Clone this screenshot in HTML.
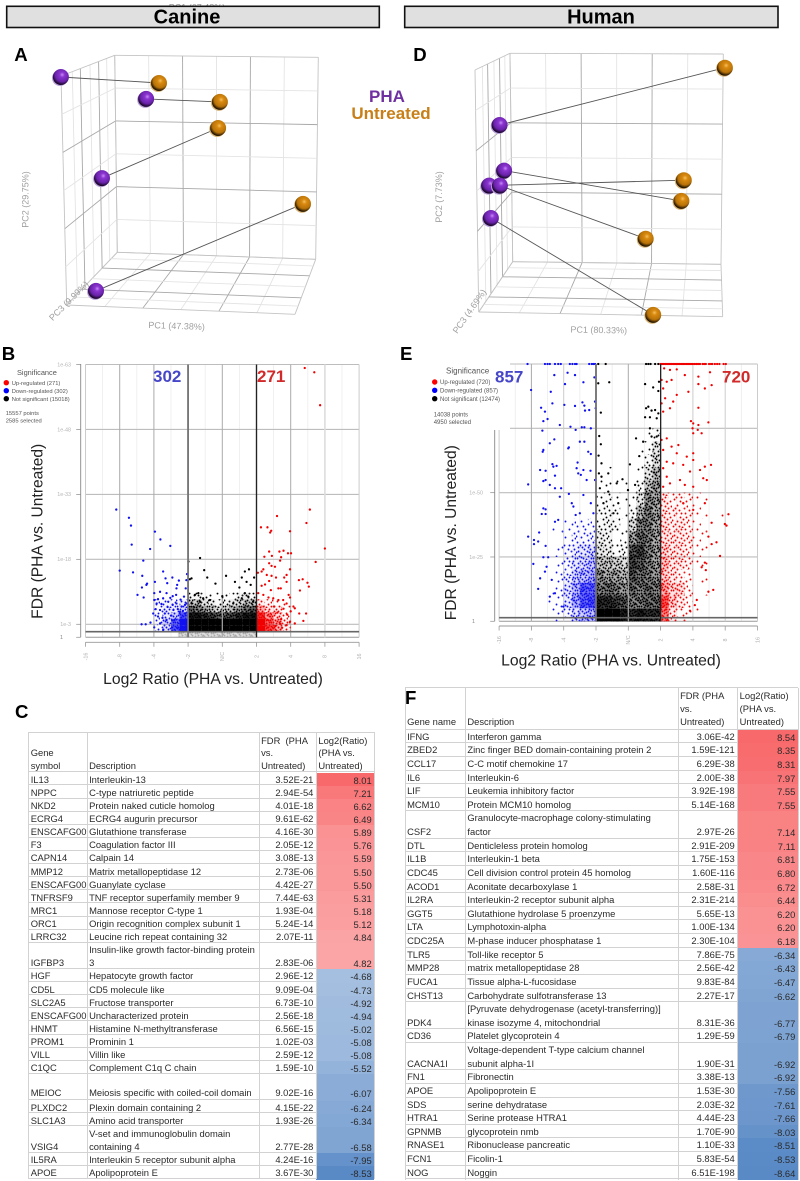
<!DOCTYPE html>
<html lang="en">
<head>
<meta charset="utf-8">
<title>PHA vs. Untreated: Canine and Human</title>
<style>
html,body{margin:0;padding:0;background:#fff;}
#page{position:relative;width:800px;height:1181px;overflow:hidden;background:#fff;font-family:"Liberation Sans",sans-serif;color:#2a2a2a;}
#figure{position:absolute;left:0;top:0;filter:blur(.25px);}
.letter{position:absolute;font-weight:bold;font-size:18.6px;line-height:20px;color:#000;z-index:5;}
.tbl{position:absolute;font-size:9.4px;filter:blur(.15px);}
.row{display:grid;box-sizing:border-box;border-bottom:1px solid #d2d2d2;white-space:nowrap;}
.row span{align-self:end;padding-left:2.4px;position:relative;display:block;}
.row .n{text-align:right;padding:0 2.6px 0 0;}
.row .h{align-self:stretch;display:flex;justify-content:flex-end;align-items:flex-end;padding:0 2.6px 0 0;margin-bottom:-1px;}
.vl{position:absolute;top:0;bottom:0;width:1px;background:#d2d2d2;}
#table-c{left:28.3px;top:732.3px;width:346.5px;height:445.9px;border-top:1px solid #d2d2d2;}
#table-c .row{grid-template-columns:58.4px 172px 57.3px 58.3px;line-height:13.12px;height:13.12px;}
#table-c .row.d{height:26.24px;}
#table-c .row span{top:.5px;}
#table-c .row.hd{height:39px;line-height:12.3px;}
#table-f{left:404.7px;top:687.3px;width:393.3px;height:491.4px;border-top:1px solid #d2d2d2;}
#table-f .row{grid-template-columns:60.3px 212.7px 59.6px 60.7px;line-height:13.64px;height:13.64px;}
#table-f .row.d{height:27.28px;}
#table-f .row.hd{height:41.4px;line-height:12.85px;}
</style>
</head>
<body>
<div id="page">
<svg id="figure" width="800" height="1181" viewBox="0 0 800 1181" xmlns="http://www.w3.org/2000/svg" font-family="'Liberation Sans',sans-serif">
  <defs>
    <radialGradient id="sphere-purple" cx="58%" cy="36%" r="62%">
      <stop offset="0" stop-color="#c98af5"/><stop offset=".25" stop-color="#8a35d0"/><stop offset=".7" stop-color="#6a22aa"/><stop offset="1" stop-color="#180828"/>
    </radialGradient>
    <radialGradient id="sphere-orange" cx="58%" cy="36%" r="62%">
      <stop offset="0" stop-color="#f6c060"/><stop offset=".25" stop-color="#d98a10"/><stop offset=".7" stop-color="#b87208"/><stop offset="1" stop-color="#1e1202"/>
    </radialGradient>
  </defs>

  <text x="197" y="10.5" font-size="9" text-anchor="middle" fill="#999">PC1 (67.48%)</text>

  <g>
    <rect x="6.7" y="6.3" width="372.6" height="21.2" fill="#e0e0e0" stroke="#111" stroke-width="1.6"/>
    <text x="187" y="23.4" font-size="20" font-weight="bold" text-anchor="middle" fill="#000">Canine</text>
  </g>
  <g>
    <rect x="404.7" y="6.3" width="373.3" height="21.2" fill="#e0e0e0" stroke="#111" stroke-width="1.6"/>
    <text x="601" y="23.4" font-size="20" font-weight="bold" text-anchor="middle" fill="#000">Human</text>
  </g>

  <g id="pca-a"></g>
  <g id="pca-d"></g>

  <text x="26" y="197" font-size="9" fill="#a0a0a0" text-anchor="middle" transform="rotate(-90 28.5 197)">PC2 (29.75%)</text>
  <text x="176.5" y="329" font-size="9" fill="#a0a0a0" text-anchor="middle" transform="rotate(2 176.5 329)">PC1 (47.38%)</text>
  <text x="71" y="303" font-size="9" fill="#a0a0a0" text-anchor="middle" transform="rotate(-45 71 303)">PC3 (9.99%)</text>
  <text x="442" y="197" font-size="9" fill="#a0a0a0" text-anchor="middle" transform="rotate(-90 442 197)">PC2 (7.73%)</text>
  <text x="598.7" y="333" font-size="9" fill="#a0a0a0" text-anchor="middle" transform="rotate(1 598.7 333)">PC1 (80.33%)</text>
  <text x="472" y="313" font-size="9" fill="#a0a0a0" text-anchor="middle" transform="rotate(-55 472 313)">PC3 (4.69%)</text>

  <text x="387" y="102" font-size="17" font-weight="bold" fill="#7030a0" text-anchor="middle">PHA</text>
  <text x="391" y="119" font-size="17" font-weight="bold" fill="#c87f17" text-anchor="middle">Untreated</text>

  <g id="volcano-b"></g>
  <g id="volcano-e"></g>

  <g>
    <text x="17" y="374.8" font-size="7.4" fill="#555">Significance</text>
    <circle cx="6.3" cy="382.7" r="2.7" fill="#f00"/>
    <text x="11.7" y="384.8" font-size="5.8" fill="#555">Up-regulated (271)</text>
    <circle cx="6.3" cy="390.7" r="2.7" fill="#00f"/>
    <text x="11.7" y="392.8" font-size="5.8" fill="#555">Down-regulated (302)</text>
    <circle cx="6.3" cy="398.7" r="2.7" fill="#000"/>
    <text x="11.7" y="400.8" font-size="5.8" fill="#555">Not significant (15018)</text>
    <text x="5.7" y="415.2" font-size="5.8" fill="#555">15557 points</text>
    <text x="5.7" y="422.3" font-size="5.8" fill="#555">2585 selected</text>
  </g>
  <text x="153" y="382" font-size="17" font-weight="bold" fill="#4646c8">302</text>
  <text x="257" y="382" font-size="17" font-weight="bold" fill="#d22a2a">271</text>

  <g>
    <rect x="430" y="362" width="80" height="68" fill="#fff"/>
    <text x="446" y="373.5" font-size="8" fill="#555">Significance</text>
    <circle cx="434.7" cy="382" r="2.7" fill="#f00"/>
    <text x="440" y="384.1" font-size="6" fill="#555">Up-regulated (720)</text>
    <circle cx="434.7" cy="390.3" r="2.7" fill="#00f"/>
    <text x="440" y="392.4" font-size="6" fill="#555">Down-regulated (857)</text>
    <circle cx="434.7" cy="398.7" r="2.7" fill="#000"/>
    <text x="440" y="400.8" font-size="6" fill="#555">Not significant (12474)</text>
    <text x="433.7" y="416.4" font-size="6" fill="#555">14038 points</text>
    <text x="433.7" y="423.8" font-size="6" fill="#555">4950 selected</text>
  </g>
  <text x="495" y="382.5" font-size="17" font-weight="bold" fill="#4646c8">857</text>
  <text x="722" y="382.5" font-size="17" font-weight="bold" fill="#d22a2a">720</text>

  <text x="213" y="684" font-size="15.7" fill="#222" text-anchor="middle">Log2 Ratio (PHA vs. Untreated)</text>
  <text x="611" y="665.7" font-size="15.7" fill="#222" text-anchor="middle">Log2 Ratio (PHA vs. Untreated)</text>
  <text x="42.5" y="531.3" font-size="15.6" fill="#222" text-anchor="middle" transform="rotate(-90 42.5 531.3)">FDR (PHA vs. Untreated)</text>
  <text x="456" y="532.7" font-size="15.6" fill="#222" text-anchor="middle" transform="rotate(-90 456 532.7)">FDR (PHA vs. Untreated)</text>
</svg>

<div class="letter" style="left:14.3px;top:45px">A</div>
<div class="letter" style="left:413.3px;top:45px">D</div>
<div class="letter" style="left:1.7px;top:343.5px">B</div>
<div class="letter" style="left:400px;top:343.5px">E</div>
<div class="letter" style="left:15px;top:702px">C</div>
<div class="letter" style="left:405px;top:688px">F</div>

<div class="tbl" id="table-c">
<div class="row hd"><span>Gene<br>symbol</span><span>Description</span><span>FDR&nbsp; (PHA<br>vs.<br>Untreated)</span><span>Log2(Ratio)<br>(PHA vs.<br>Untreated)</span></div>
<div class="row"><span>IL13</span><span>Interleukin-13</span><span class="n">3.52E-21</span><span class="h" style="background:#f8696b">8.01</span></div>
<div class="row"><span>NPPC</span><span>C-type natriuretic peptide</span><span class="n">2.94E-54</span><span class="h" style="background:#f9787a">7.21</span></div>
<div class="row"><span>NKD2</span><span>Protein naked cuticle homolog</span><span class="n">4.01E-18</span><span class="h" style="background:#f98385">6.62</span></div>
<div class="row"><span>ECRG4</span><span>ECRG4 augurin precursor</span><span class="n">9.61E-62</span><span class="h" style="background:#f98587">6.49</span></div>
<div class="row"><span>ENSCAFG00</span><span>Glutathione transferase</span><span class="n">4.16E-30</span><span class="h" style="background:#fa9192">5.89</span></div>
<div class="row"><span>F3</span><span>Coagulation factor III</span><span class="n">2.05E-12</span><span class="h" style="background:#fa9395">5.76</span></div>
<div class="row"><span>CAPN14</span><span>Calpain 14</span><span class="n">3.08E-13</span><span class="h" style="background:#fa9698">5.59</span></div>
<div class="row"><span>MMP12</span><span>Matrix metallopeptidase 12</span><span class="n">2.73E-06</span><span class="h" style="background:#fa9899">5.50</span></div>
<div class="row"><span>ENSCAFG00</span><span>Guanylate cyclase</span><span class="n">4.42E-27</span><span class="h" style="background:#fa9899">5.50</span></div>
<div class="row"><span>TNFRSF9</span><span>TNF receptor superfamily member 9</span><span class="n">7.44E-63</span><span class="h" style="background:#fa9c9d">5.31</span></div>
<div class="row"><span>MRC1</span><span>Mannose receptor C-type 1</span><span class="n">1.93E-04</span><span class="h" style="background:#fa9e9f">5.18</span></div>
<div class="row"><span>ORC1</span><span>Origin recognition complex subunit 1</span><span class="n">5.24E-14</span><span class="h" style="background:#fb9fa0">5.12</span></div>
<div class="row"><span>LRRC32</span><span>Leucine rich repeat containing 32</span><span class="n">2.07E-11</span><span class="h" style="background:#fba4a6">4.84</span></div>
<div class="row d"><span>IGFBP3</span><span>Insulin-like growth factor-binding protein<br>3</span><span class="n">2.83E-06</span><span class="h" style="background:#fba5a6">4.82</span></div>
<div class="row"><span>HGF</span><span>Hepatocyte growth factor</span><span class="n">2.96E-12</span><span class="h" style="background:#a4bfe0">-4.68</span></div>
<div class="row"><span>CD5L</span><span>CD5 molecule like</span><span class="n">9.09E-04</span><span class="h" style="background:#a3bedf">-4.73</span></div>
<div class="row"><span>SLC2A5</span><span>Fructose transporter</span><span class="n">6.73E-10</span><span class="h" style="background:#a0bbde">-4.92</span></div>
<div class="row"><span>ENSCAFG00</span><span>Uncharacterized protein</span><span class="n">2.56E-18</span><span class="h" style="background:#9fbbde">-4.94</span></div>
<div class="row"><span>HNMT</span><span>Histamine N-methyltransferase</span><span class="n">6.56E-15</span><span class="h" style="background:#9ebadd">-5.02</span></div>
<div class="row"><span>PROM1</span><span>Prominin 1</span><span class="n">1.02E-03</span><span class="h" style="background:#9db9dd">-5.08</span></div>
<div class="row"><span>VILL</span><span>Villin like</span><span class="n">2.59E-12</span><span class="h" style="background:#9db9dd">-5.08</span></div>
<div class="row"><span>C1QC</span><span>Complement C1q C chain</span><span class="n">1.59E-10</span><span class="h" style="background:#94b3da">-5.52</span></div>
<div class="row d"><span>MEIOC</span><span>Meiosis specific with coiled-coil domain</span><span class="n">9.02E-16</span><span class="h" style="background:#8aacd6">-6.07</span></div>
<div class="row"><span>PLXDC2</span><span>Plexin domain containing 2</span><span class="n">4.15E-22</span><span class="h" style="background:#86a9d5">-6.24</span></div>
<div class="row"><span>SLC1A3</span><span>Amino acid transporter</span><span class="n">1.93E-26</span><span class="h" style="background:#84a8d5">-6.34</span></div>
<div class="row d"><span>VSIG4</span><span>V-set and immunoglobulin domain<br>containing 4</span><span class="n">2.77E-28</span><span class="h" style="background:#80a5d3">-6.58</span></div>
<div class="row"><span>IL5RA</span><span>Interleukin 5 receptor subunit alpha</span><span class="n">4.24E-16</span><span class="h" style="background:#6592ca">-7.95</span></div>
<div class="row"><span>APOE</span><span>Apolipoprotein E</span><span class="n">3.67E-30</span><span class="h" style="background:#5a8ac6">-8.53</span></div>
<div class="vl" style="left:0"></div><div class="vl" style="left:58.4px"></div><div class="vl" style="left:230.4px"></div><div class="vl" style="left:287.7px"></div><div class="vl" style="left:346px"></div>
</div>

<div class="tbl" id="table-f">
<div class="row hd"><span>Gene name</span><span>Description</span><span>FDR (PHA<br>vs.<br>Untreated)</span><span>Log2(Ratio)<br>(PHA vs.<br>Untreated)</span></div>
<div class="row"><span>IFNG</span><span>Interferon gamma</span><span class="n">3.06E-42</span><span class="h" style="background:#f8696b">8.54</span></div>
<div class="row"><span>ZBED2</span><span>Zinc finger BED domain-containing protein 2</span><span class="n">1.59E-121</span><span class="h" style="background:#f86c6e">8.35</span></div>
<div class="row"><span>CCL17</span><span>C-C motif chemokine 17</span><span class="n">6.29E-38</span><span class="h" style="background:#f86d6f">8.31</span></div>
<div class="row"><span>IL6</span><span>Interleukin-6</span><span class="n">2.00E-38</span><span class="h" style="background:#f87375">7.97</span></div>
<div class="row"><span>LIF</span><span>Leukemia inhibitory factor</span><span class="n">3.92E-198</span><span class="h" style="background:#f97a7c">7.55</span></div>
<div class="row"><span>MCM10</span><span>Protein MCM10 homolog</span><span class="n">5.14E-168</span><span class="h" style="background:#f97a7c">7.55</span></div>
<div class="row d"><span>CSF2</span><span>Granulocyte-macrophage colony-stimulating<br>factor</span><span class="n">2.97E-26</span><span class="h" style="background:#f98283">7.14</span></div>
<div class="row"><span>DTL</span><span>Denticleless protein homolog</span><span class="n">2.91E-209</span><span class="h" style="background:#f98284">7.11</span></div>
<div class="row"><span>IL1B</span><span>Interleukin-1 beta</span><span class="n">1.75E-153</span><span class="h" style="background:#f98789">6.81</span></div>
<div class="row"><span>CDC45</span><span>Cell division control protein 45 homolog</span><span class="n">1.60E-116</span><span class="h" style="background:#f98789">6.80</span></div>
<div class="row"><span>ACOD1</span><span>Aconitate decarboxylase 1</span><span class="n">2.58E-31</span><span class="h" style="background:#f9898b">6.72</span></div>
<div class="row"><span>IL2RA</span><span>Interleukin-2 receptor subunit alpha</span><span class="n">2.31E-214</span><span class="h" style="background:#fa8e8f">6.44</span></div>
<div class="row"><span>GGT5</span><span>Glutathione hydrolase 5 proenzyme</span><span class="n">5.65E-13</span><span class="h" style="background:#fa9294">6.20</span></div>
<div class="row"><span>LTA</span><span>Lymphotoxin-alpha</span><span class="n">1.00E-134</span><span class="h" style="background:#fa9294">6.20</span></div>
<div class="row"><span>CDC25A</span><span>M-phase inducer phosphatase 1</span><span class="n">2.30E-104</span><span class="h" style="background:#fa9395">6.18</span></div>
<div class="row"><span>TLR5</span><span>Toll-like receptor 5</span><span class="n">7.86E-75</span><span class="h" style="background:#86a9d5">-6.34</span></div>
<div class="row"><span>MMP28</span><span>matrix metallopeptidase 28</span><span class="n">2.56E-42</span><span class="h" style="background:#84a8d5">-6.43</span></div>
<div class="row"><span>FUCA1</span><span>Tissue alpha-L-fucosidase</span><span class="n">9.83E-84</span><span class="h" style="background:#83a7d4">-6.47</span></div>
<div class="row"><span>CHST13</span><span>Carbohydrate sulfotransferase 13</span><span class="n">2.27E-17</span><span class="h" style="background:#81a5d3">-6.62</span></div>
<div class="row d"><span>PDK4</span><span>[Pyruvate dehydrogenase (acetyl-transferring)]<br>kinase isozyme 4, mitochondrial</span><span class="n">8.31E-36</span><span class="h" style="background:#7ea3d2">-6.77</span></div>
<div class="row"><span>CD36</span><span>Platelet glycoprotein 4</span><span class="n">1.29E-59</span><span class="h" style="background:#7da3d2">-6.79</span></div>
<div class="row d"><span>CACNA1I</span><span>Voltage-dependent T-type calcium channel<br>subunit alpha-1I</span><span class="n">1.90E-31</span><span class="h" style="background:#7ba1d1">-6.92</span></div>
<div class="row"><span>FN1</span><span>Fibronectin</span><span class="n">3.38E-13</span><span class="h" style="background:#7ba1d1">-6.92</span></div>
<div class="row"><span>APOE</span><span>Apolipoprotein E</span><span class="n">1.53E-30</span><span class="h" style="background:#6f99cd">-7.56</span></div>
<div class="row"><span>SDS</span><span>serine dehydratase</span><span class="n">2.03E-32</span><span class="h" style="background:#6e98cd">-7.61</span></div>
<div class="row"><span>HTRA1</span><span>Serine protease HTRA1</span><span class="n">4.44E-23</span><span class="h" style="background:#6d97cc">-7.66</span></div>
<div class="row"><span>GPNMB</span><span>glycoprotein nmb</span><span class="n">1.70E-90</span><span class="h" style="background:#6692ca">-8.03</span></div>
<div class="row"><span>RNASE1</span><span>Ribonuclease pancreatic</span><span class="n">1.10E-33</span><span class="h" style="background:#5c8cc7">-8.51</span></div>
<div class="row"><span>FCN1</span><span>Ficolin-1</span><span class="n">5.83E-54</span><span class="h" style="background:#5b8bc7">-8.53</span></div>
<div class="row"><span>NOG</span><span>Noggin</span><span class="n">6.51E-198</span><span class="h" style="background:#5a8ac6">-8.64</span></div>
<div class="vl" style="left:0"></div><div class="vl" style="left:60.3px"></div><div class="vl" style="left:273px"></div><div class="vl" style="left:332.6px"></div><div class="vl" style="left:393px"></div>
</div>
</div>

<script>
/* ---------- PCA scores (plot-scaled component units) ---------- */
const caninePhaPC1 = [10.3, 38.7, 24, 22];
const caninePhaPC2 = [81, 73.7, 47.3, 9.7];
const canineUntreatedPC1 = [43, 63.3, 62.7, 91];
const canineUntreatedPC2 = [79, 72.7, 64, 38.7];
const humanPhaPC1 = [23.2, 24.7, 19.7, 23.3, 20.3];
const humanPhaPC2 = [65, 49.8, 44.8, 44.8, 34];
const humanUntreatedPC1 = [98.3, 83.8, 84.6, 71.9, 74.4];
const humanUntreatedPC2 = [84.1, 39.7, 46.6, 27.1, 1.7];

/* ---------- Volcano axes ---------- */
const xTickLabels = ['-16', '-8', '-4', '-2', 'N/C', '2', '4', '8', '16'];
const xTickSteps = [-4, -3, -2, -1, 0, 1, 2, 3, 4];
const canineYTicks = [0, 3, 18, 33, 48, 63];
const canineYLabels = ['1', '1e-3', '1e-18', '1e-33', '1e-48', '1e-63'];
const humanYTicks = [0, 25, 50, 75, 100];
const humanYLabels = ['1', '1e-25', '1e-50', '1e-75', '1e-100'];

/* ---------- Canine volcano points: [tick-step ratio, -log10 FDR] ---------- */
const canineDown = [[-3.1,29.5],[-2.73,27.6],[-2.67,25.8],[-2.65,21.4],[-2.11,20.4],[-1.97,24.4],[-1.81,22.6],[-1.52,21.1],[-2.31,17.7],[-3,15.4],[-2.61,15],[-2.34,14.2],[-1.73,15.2],[-1.97,12.8],[-1.66,13.6],[-1.46,13.8],[-2.22,12.1],[-2.35,11.5],[-2.2,12.4],[-2.48,9.8],[-2.3,9.2],[-1.99,10.2],[-1.61,12.5],[-1.27,13.1],[-1.32,12.1],[-1.34,11.3],[-1.07,11.3],[-1.03,14.6],[-1.05,13.2],[-1.82,10.5],[-1.63,10.2],[-1.45,9.5],[-1.35,9.8],[-1.99,8.6],[-1.92,7.8],[-1.73,9],[-1.58,8.2],[-1.34,7.8],[-1.19,7.1],[-1.09,7.5],[-1.04,7.8],[-2.02,5.5],[-1.82,6.3],[-1.68,5.5],[-1.43,6.3],[-1.24,5.9],[-1.09,5.5],[-2.36,3],[-2.24,3],[-2.1,3.4],[-1.99,2.3],[-1.82,3.2],[-1.73,1.7],[-1.63,4],[-1.5,5],[-1.4,4],[-1.75,4.5],[-1.88,4.8],[-1.95,6.5],[-1.6,7],[-1.45,7.5],[-1.3,6.5],[-1.15,6.1],[-1.88,8.8],[-1.78,7.7],[-1.52,9.1],[-1.22,8.7],[-1.12,9.4]];
const canineUp = [[1.13,25.4],[1.32,25.4],[1.43,24.6],[1.4,24.2],[1.6,28],[1.98,24.5],[2.56,29.5],[2.46,26.4],[3,20.5],[2.73,17.4],[2.41,62.2],[2.69,61.2],[2.86,53.6],[1.79,20],[1.67,19.8],[1.37,19.8],[1.92,19.4],[2.01,19.4],[1.23,18.6],[1.45,18.8],[1.72,18.5],[1.69,17.7],[1.37,17.1],[1.44,16.5],[1.54,16.3],[1.2,15.7],[1.15,15.2],[1.04,14.9],[1.3,14.4],[1.44,14.2],[1.57,13.8],[1.88,14.4],[1.98,15.7],[1.81,13.8],[2.24,13.2],[2.35,13.4],[2.49,12.6],[2.53,11.7],[2.27,10.8],[1.88,12.8],[1.64,11.3],[1.71,11.3],[1.15,11.9],[1.25,12.2],[1.37,13],[1.42,10.9],[1.05,10.2],[1.2,9.8],[1.35,9.2],[1.49,9],[1.64,8.6],[1.78,8.6],[1.94,9.8],[1.98,9.2],[1.88,7.8],[2.08,7.1],[2.12,6.7],[2.25,5.5],[2.45,5.5],[2.37,3.8],[2.12,3.2],[1.88,2.8],[1.98,3.6],[1.72,4.2],[1.61,5.7],[1.79,6.6],[1.52,7.1],[1.69,3.1],[1.9,5.2],[2,6],[1.55,2.6],[1.75,2.2]];
const canineNotSig = [[-0.99,17.5],[-0.65,18.3],[-0.53,15.5],[-0.95,13.4],[-0.9,13.6],[-0.44,13.8],[-0.2,12.4],[0.11,14.2],[0.37,12.8],[0.57,13.8],[0.78,15.7],[0.66,15.2],[0.5,11.5],[0.71,12.8],[0.83,12.1],[0.93,13.8],[-0.7,10.2],[-0.8,9.8],[-0.56,9],[-0.36,8.6],[-0.65,8.2],[-0.9,7.8],[0,9.5],[0.66,10.2],[0.76,9.4],[0.57,9],[0.32,7.8],[0.9,8.2]];

/* ---------- Canine density rows, bottom to top (share of cell covered by points) ---------- */
const canineNotSigDensity = [
  [1,1,1,1,1,1,1,1,1,1],
  [1,1,1,1,1,1,1,1,1,1],
  [.95,.95,.9,.85,.8,.8,.85,.9,.95,.95],
  [.8,.7,.6,.5,.4,.45,.55,.65,.75,.8],
  [.5,.5,.35,.3,.2,.25,.35,.4,.5,.5],
  [.2,.25,.15,.08,.1,.1,.15,.25,.35,.2]
];
const canineDownDensity = [
  [.15,.4,.85,1],
  [.2,.45,.8,1],
  [.15,.35,.5,.85],
  [.15,.3,.3,.45],
  [.15,.25,.2,.3]
];
const canineUpDensity = [
  [1,.85,.6,.3],
  [1,.8,.6,.3],
  [.9,.65,.4,.2],
  [.6,.35,.25,.1],
  [.3,.2,.15,.08]
];
const canineUnselectedDensity = [[.65,.65,.65,.65,.65,.65,.65,.65,.65,.65]];

/* ---------- Human volcano points: [tick-step ratio, -log10 FDR] ---------- */
const humanDownTopRow = [-3.12,-2.58,-2.5,-2.43,-2.27,-2.17,-2.09,-1.81,-1.73,-1.65,-1.6,-1.21,-1.13,-1.08,-1.03];
const humanNotSigTopRow = [-0.93,-0.7,0.55,0.62,0.69,0.83,0.93];
const humanUpTopRow = [1,1.03,1.07,1.1,1.14,1.17,1.21,1.25,1.28,1.32,1.35,1.39,1.42,1.46,1.5,1.53,1.57,1.6,1.64,1.68,1.71,1.75,1.79,1.82,1.86,1.9,1.93,1.97,2,2.05,2.1,2.13,2.18,2.22,2.3,2.35,2.4,2.5,2.56,2.6,2.68,2.75,2.82,2.95,3.02];
const humanDown = [[-2.29,95.7],[-1.88,96.6],[-1.65,95.7],[-1.96,92.2],[-1.39,92.9],[-1.05,94.8],[-3.01,89.9],[-2.4,89.2],[-2.35,84.7],[-1.98,84.1],[-1.65,83.7],[-1.42,85.1],[-1.36,83.8],[-2.7,83],[-2.58,81.5],[-1.34,81.9],[-1.21,82.1],[-1.03,85.4],[-1.01,82.8],[-2.5,78.6],[-2.63,77.8],[-2.12,76.3],[-1.79,75.6],[-1.63,74.4],[-1.44,75.4],[-1.36,75.4],[-1.16,75],[-2.66,74.1],[-2.29,70.7],[-2.43,69.2],[-1.84,67.6],[-1.86,67.2],[-2.63,66.6],[-2.65,65.9],[-1.5,69.8],[-1.36,69.8],[-1.24,65.9],[-1.16,65],[-2.73,58.8],[-2.56,58.5],[-2.35,61.1],[-2.32,60.1],[-2.22,60.4],[-1.57,61.7],[-1.6,59.5],[-1.39,58.8],[-1.17,58.5],[-1.55,57.5],[-1.47,56.9],[-2.27,56.6],[-2.56,54.9],[-2.63,54.5],[-3.1,53.2],[-2.43,53],[-2.27,51.7],[-2.08,51.7],[-1.29,54.9],[-1.03,54.9],[-2.12,48.4],[-1.84,49.5],[-1.39,49.1],[-1.75,45.9],[-1.7,44.6],[-1.16,45.9],[-2.63,43.9],[-2.56,43.5],[-2.68,41.7],[-2.56,41.7],[-2.17,39.4],[-2.27,38.7],[-1.63,41.3],[-1.5,42],[-1.08,42],[-3.1,32.9],[-2.92,31.6],[-2.92,30],[-2.79,31],[-2.76,34.5],[-2.56,29.3],[-2.63,24.9],[-2.48,24.9],[-2.94,22.3],[-2.53,21.2],[-2.58,19.3],[-2.73,16.7],[-2.79,12.6],[-2.37,16.1],[-2.27,10.9],[-2.43,9.6],[-2.01,5.7]];
const humanUp = [[1.11,98.3],[1.29,97.7],[1.5,97.9],[1.75,95.7],[2.17,95.1],[2.53,96.8],[2.58,91.8],[2.17,92.2],[2.37,90.5],[1.03,93.8],[1.19,93.1],[1.34,93.8],[1.08,90.5],[1.5,88],[1.86,89.2],[1.14,86.7],[1.39,85.4],[1.03,84.7],[1.29,82.8],[2.17,83],[1.08,81.5],[1.94,77.8],[2.01,76.9],[2.48,77.3],[2.17,76.3],[1.99,75],[2.15,74.4],[2.01,73.1],[2.27,73.1],[1.19,71.1],[1.03,70.5],[1.34,67.9],[1.55,68.5],[1.08,66.6],[1.5,65.3],[1.81,64],[2.01,65.3],[2.01,62.7],[1.19,62],[1.39,61.4],[1.7,60.8],[1.08,59.5],[1.91,58.2],[2.22,58.8],[2.37,60.1],[2.56,60.8],[2.32,55.6],[2.43,54.9],[1.19,56.2],[1.6,54.9],[1.75,53],[2.01,52.3],[1.08,52.3],[1.29,53.6],[2.37,45.9],[1.7,45.9],[2.01,43.3],[3.1,41.6],[2.99,37.8],[3.04,37.2],[2.58,38.3],[2.48,32.9],[2.73,30.7],[2.58,30],[2.84,25.4],[2.37,22.8],[2.27,21],[2.4,19.9],[2.48,11.5],[2.63,12.2],[2.12,8.3],[2.06,6.3],[1.91,4.1]];
const humanNotSig = [[-0.93,92.5],[-0.59,92.9],[0.52,92.2],[0.77,90.9],[0.93,89.5],[0.95,93.1],[-0.85,81.1],[0.55,82.8],[0.62,83.4],[0.72,81.9],[0.83,82.1],[0.93,80.8],[0.52,79.3],[0.67,79.3],[0.88,78.9],[-0.9,72],[-0.85,68.8],[0.24,71.1],[0.46,69.8],[0.67,75],[0.72,71.8],[0.88,71.8],[-0.92,64.4],[-0.83,61.4],[0.05,61],[0.34,64.2],[-0.91,57.5],[-0.83,56.2],[-0.62,57.5],[-0.18,55.2],[-0.36,53.6],[0.21,53],[-0.88,51.7],[-0.62,50.4],[-0.31,45.9],[-0.98,48.4],[-0.77,45.9],[-0.46,42],[-0.01,51]];

/* ---------- Human density rows, bottom to top ---------- */
const humanNotSigDensity = [
  [1,1,1,.95,.9,.95,.9,.9],
  [.9,.9,.85,.8,.7,.7,.75,.75],
  [.7,.75,.7,.65,.75,.7,.75,.7],
  [.65,.6,.6,.55,.8,.75,.7,.65],
  [.5,.5,.45,.4,.85,.8,.7,.6],
  [.35,.3,.15,.2,.8,.85,.7,.6],
  [.3,.25,.05,.1,.6,.75,.7,.6],
  [.2,.25,.2,.05,.4,.7,.7,.6],
  [.15,.2,.12,.03,.2,.55,.7,.6],
  [.1,.15,.1,.02,.1,.35,.65,.6],
  [.05,.05,.03,.02,.02,.2,.5,.6],
  [.03,.02,.02,0,0,.05,.35,.55],
  [0,0,0,0,0,.03,.2,.4],
  [0,0,0,0,0,.02,.1,.35],
  [0,0,0,0,0,0,.05,.15]
];
const humanDownDensity = [
  [.05,.1,.2,.4,.5,.55],
  [.1,.1,.35,.6,.8,.85],
  [.05,.1,.35,.55,.8,.8],
  [.02,.1,.25,.45,.5,.6],
  [.02,.05,.2,.35,.4,.5],
  [.02,.1,.2,.3,.35,.4],
  [.05,.03,.1,.2,.2,.25],
  [.03,.03,.1,.12,.12,.15]
];
const humanUpDensity = [
  [.7,.3,.15,.1,.05,0,0,0],
  [.8,.45,.3,.15,.05,0,0,0],
  [.6,.4,.4,.15,.02,.03,0,0],
  [.45,.3,.2,.1,.02,.05,0,0],
  [.5,.3,.3,.2,.05,.05,0,0],
  [.4,.3,.3,.2,.1,.05,.02,0],
  [.35,.3,.3,.25,.1,.05,.02,0],
  [.35,.25,.3,.2,.1,.05,.02,0],
  [.3,.25,.2,.2,.1,.03,0,.03],
  [.3,.15,.2,.15,.1,.03,0,0]
];

/* ---------- Speckle tile used to texture density cells ---------- */
const speckleTile = [[2,3],[9,1],[14,5],[5,9],[12,12],[1,14],[7,14],[15,10],[4,1],[11,7],[0,8],[8,5],[13,1],[3,12],[10,15],[6,3],[15,14],[2,7],[9,10],[12,3],[5,13],[0,11],[7,8],[13,8],[3,5],[10,4],[15,2],[6,11],[1,1],[11,11],[8,13],[4,15],[4,6],[10,1],[14,8],[1,4],[6,7],[12,6],[8,2],[3,9],[15,6],[10,12],[5,1],[13,14],[1,10],[7,11],[11,3],[2,15],[14,12],[6,15],[9,7],[0,3],[4,11],[12,9],[8,9],[3,14],[15,0],[5,5],[11,14],[13,11],[7,2],[1,6],[9,13],[14,15]];

const NS = 'http://www.w3.org/2000/svg';
const figure = document.getElementById('figure');
const defs = figure.querySelector('defs');

function mk(tag, attrs, parent) {
  const node = document.createElementNS(NS, tag);
  for (const key in attrs) node.setAttribute(key, attrs[key]);
  parent.appendChild(node);
  return node;
}

/* ---------- PCA ---------- */
function onQuad(q, u, v) {
  const tx = q[0][0] + (q[1][0] - q[0][0]) * u, ty = q[0][1] + (q[1][1] - q[0][1]) * u;
  const bx = q[3][0] + (q[2][0] - q[3][0]) * u, by = q[3][1] + (q[2][1] - q[3][1]) * u;
  return [tx + (bx - tx) * v, ty + (by - ty) * v];
}
function drawWall(parent, q, us, vs, wallName) {
  const wall = mk('g', {}, parent);
  
  
  us.forEach(function (u, i) {
    const a = onQuad(q, u, 0), b = onQuad(q, u, 1);
    const isDark = i === 2 || i === 4;
    const ln = mk('line', {x1: a[0], y1: a[1], x2: b[0], y2: b[1], stroke: isDark ? '#a8a8a8' : (i === 0 || i === us.length - 1 ? '#c4c4c4' : '#e4e4e4'), 'stroke-width': .9}, wall);
    
    
  });
  vs.forEach(function (v, i) {
    const a = onQuad(q, 0, v), b = onQuad(q, 1, v);
    const isDark = i === 2 || i === 4;
    const ln = mk('line', {x1: a[0], y1: a[1], x2: b[0], y2: b[1], stroke: isDark ? '#a8a8a8' : (i === 0 || i === vs.length - 1 ? '#c4c4c4' : '#e4e4e4'), 'stroke-width': .9}, wall);
    
    
  });
}
function drawSphere(parent, x, y, fillId, rimColor, sphereName) {
  const sphere = mk('g', {}, parent);
  
  
  const rim = mk('circle', {cx: x - .9, cy: y + 1, r: 8, fill: rimColor}, sphere);
  
  
  const body = mk('circle', {cx: x, cy: y, r: 8, fill: 'url(#' + fillId + ')'}, sphere);
  
  
}
function drawPca(id, originX, back, left, floor, phaX, phaY, untreatedX, untreatedY) {
  const g = document.getElementById(id);
  const pcaX = function (v) { return originX + 3 * v; };
  const pcaY = function (v) { return 320 - 3 * v; };
  const sixths = [0, 1/6, 2/6, 3/6, 4/6, 5/6, 1];
  drawWall(g, back, sixths, sixths, 'pca-back-wall');
  drawWall(g, left, [0, .21, .36, .54, .7, .85, 1], sixths, 'pca-side-wall');
  drawWall(g, floor, sixths, [0, .12, .3, .5, .7, .85, 1], 'pca-floor');
  phaX.forEach(function (v, i) {
    const link = mk('line', {x1: pcaX(v), y1: pcaY(phaY[i]), x2: pcaX(untreatedX[i]), y2: pcaY(untreatedY[i]), stroke: '#555', 'stroke-width': .9}, g);
    
    
  });
  untreatedX.forEach(function (v, i) {
    drawSphere(g, pcaX(v), pcaY(untreatedY[i]), 'sphere-orange', '#d9b477', 'untreated-sample');
  });
  phaX.forEach(function (v, i) {
    drawSphere(g, pcaX(v), pcaY(phaY[i]), 'sphere-purple', '#b79ad6', 'pha-sample');
  });
}
drawPca('pca-a', 30,
  [[114.7,55.3],[318.3,57.3],[315.7,259.3],[117.3,252.3]],
  [[61,76],[114.7,55.3],[117.3,252.3],[66.7,305]],
  [[117.3,252.3],[315.7,259.3],[295,314.3],[66.7,305]],
  caninePhaPC1, caninePhaPC2, canineUntreatedPC1, canineUntreatedPC2);
drawPca('pca-d', 430,
  [[510,53.3],[723.3,54],[721,264.3],[512.7,261.7]],
  [[475,70],[510,53.3],[512.7,261.7],[478.7,312]],
  [[512.7,261.7],[721,264.3],[722.7,316.7],[478.7,312]],
  humanPhaPC1, humanPhaPC2, humanUntreatedPC1, humanUntreatedPC2);

/* ---------- Volcano ---------- */
const patternCache = {};
function specklePattern(color, count) {
  const id = 'speckle-' + color.replace('#', '') + '-' + count;
  if (patternCache[id]) return id;
  patternCache[id] = true;
  const p = mk('pattern', {id: id, width: 16, height: 16, patternUnits: 'userSpaceOnUse'}, defs);
  speckleTile.slice(0, count).forEach(function (pt) {
    mk('circle', {cx: pt[0] + .5, cy: pt[1] + .5, r: .95, fill: color}, p);
  });
  return id;
}
function drawDensity(g, x, y, color, startX, stepX, startY, stepY, rows, cellName) {
  rows.forEach(function (row, r) {
    row.forEach(function (d, c) {
      if (d <= 0) return;
      const x0 = x(startX + c * stepX), x1 = x(startX + (c + 1) * stepX);
      const y0 = y(startY + (r + 1) * stepY), y1 = y(startY + r * stepY);
      const wash = mk('rect', {x: x0, y: y0, width: x1 - x0, height: y1 - y0, fill: color, opacity: Math.pow(d, 2.4)}, g);
      
      
      const dots = mk('rect', {x: x0, y: y0, width: x1 - x0, height: y1 - y0, fill: 'url(#' + specklePattern(color, Math.max(1, Math.round(d * speckleTile.length))) + ')'}, g);
      
      
    });
  });
}
function drawPoints(g, x, y, pts, color, pointName) {
  pts.forEach(function (p) {
    const dot = mk('circle', {cx: x(p[0]), cy: y(p[1]), r: 1.15, fill: color}, g);
    
    
  });
}
function drawFrame(g, x, y, cfg) {
  xTickSteps.slice(0, -1).forEach(function (t) {
    const px = x(t + .5);
    const minor = mk('line', {x1: px, y1: y(cfg.maxY), x2: px, y2: y(0), stroke: '#ececec', 'stroke-width': .8}, g);
    
    
  });
  cfg.yTicks.forEach(function (t, i) {
    const py = y(t);
    const grid = mk('line', {x1: x(-4), y1: py, x2: x(4), y2: py, stroke: t === 0 ? '#999' : '#bdbdbd', 'stroke-width': t === 0 ? 1 : 1.1}, g);
    
    
    if (py >= cfg.axisTop) {
      const tick = mk('line', {x1: cfg.axisX - 4.5, y1: py, x2: cfg.axisX, y2: py, stroke: '#999', 'stroke-width': .8}, g);
      
      
    }
    const lbl = mk('text', {x: t === 0 ? cfg.labelX - 8 : cfg.labelX, y: py + 1.8, 'font-size': 5.4, fill: t === 0 ? '#888' : '#b5b5b5', 'text-anchor': 'end'}, g);
    
    
    lbl.textContent = cfg.yLabels[i];
  });
  xTickSteps.forEach(function (t, i) {
    const px = x(t);
    const grid = mk('line', {x1: px, y1: y(cfg.maxY), x2: px, y2: y(0), stroke: cfg.gridColors[i], 'stroke-width': cfg.gridWidths[i]}, g);
    
    
    const tick = mk('line', {x1: px, y1: cfg.xAxisY, x2: px, y2: cfg.xAxisY + 4.5, stroke: '#999', 'stroke-width': .8}, g);
    
    
    const lbl = mk('text', {x: px + 1.8, y: cfg.xLabelY, 'font-size': 5.4, fill: '#b0b0b0', 'text-anchor': 'middle', transform: 'rotate(-90 ' + (px + 1.8) + ' ' + cfg.xLabelY + ')'}, g);
    
    
    lbl.textContent = xTickLabels[i];
  });
  const xAxis = mk('line', {x1: x(-4), y1: cfg.xAxisY, x2: x(4), y2: cfg.xAxisY, stroke: '#999', 'stroke-width': .9}, g);
  
  
  const yAxis = mk('line', {x1: cfg.axisX, y1: cfg.axisTop, x2: cfg.axisX, y2: y(0), stroke: '#888', 'stroke-width': .9}, g);
  
  
}
function drawOverlays(g, x, y, cfg) {
  const center = mk('line', {x1: x(0), y1: y(cfg.centerTop), x2: x(0), y2: y(0), stroke: '#aaa', 'stroke-width': 1.2}, g);
  
  
  const threshold = mk('line', {x1: x(-4), y1: y(cfg.threshold), x2: x(4), y2: y(cfg.threshold), stroke: '#666', 'stroke-width': 1.7}, g);
  
  
  const downCut = mk('line', {x1: x(-1), y1: y(cfg.maxY), x2: x(-1), y2: y(0), stroke: '#777', 'stroke-width': 1.7}, g);
  
  
  const upCut = mk('line', {x1: x(1), y1: y(cfg.maxY), x2: x(1), y2: y(0), stroke: '#222', 'stroke-width': 1.2}, g);
  
  
}

/* Canine panel */
const canineX = function (v) { return 222.3 + 34.2 * v; };
const canineY = function (e) { return 637.3 - 4.33 * e; };
(function () {
  const g = document.getElementById('volcano-b');
  drawFrame(g, canineX, canineY, {maxY: 63, yTicks: canineYTicks, yLabels: canineYLabels, axisX: 80.7, axisTop: 364, labelX: 71, xAxisY: 642.3, xLabelY: 656.5,
    gridColors: ['#ccc', '#aaa', '#aaa', '#777', '#aaa', '#222', '#aaa', '#ddd', '#ccc'],
    gridWidths: [1, 1, 1, 1.7, 1, 1.2, 1, 1.6, 1]});
  drawDensity(g, canineX, canineY, '#aaaaaa', -1.3, .23, .1, 1.2, canineUnselectedDensity, 'not-selected-density-cell');
  drawDensity(g, canineX, canineY, '#000000', -1, .2, 1.3, 1.5, canineNotSigDensity, 'not-significant-density-cell');
  drawDensity(g, canineX, canineY, '#1010f0', -2, .25, 1.3, 1.5, canineDownDensity, 'down-regulated-density-cell');
  drawDensity(g, canineX, canineY, '#f00000', 1, .25, 1.3, 1.5, canineUpDensity, 'up-regulated-density-cell');
  drawPoints(g, canineX, canineY, canineNotSig, '#000', 'not-significant-point');
  drawPoints(g, canineX, canineY, canineDown, '#1010f0', 'down-regulated-point');
  drawPoints(g, canineX, canineY, canineUp, '#f00000', 'up-regulated-point');
  drawOverlays(g, canineX, canineY, {maxY: 63, threshold: 1.3, centerTop: 9});
})();

/* Human panel */
const humanX = function (v) { return 628.3 + 32.3 * v; };
const humanY = function (e) { return 621.3 - 2.573 * e; };
(function () {
  const g = document.getElementById('volcano-e');
  drawFrame(g, humanX, humanY, {maxY: 100, yTicks: humanYTicks, yLabels: humanYLabels, axisX: 494.7, axisTop: 430, labelX: 483, xAxisY: 626, xLabelY: 640,
    gridColors: ['#ccc', '#aaa', '#ccc', '#777', '#aaa', '#222', '#ccc', '#ccc', '#ccc'],
    gridWidths: [1, 1, 1, 1.7, 1, 1.2, 1, 1, 1]});
  drawDensity(g, humanX, humanY, '#000000', -1, .25, 0, 5, humanNotSigDensity, 'not-significant-density-cell');
  drawDensity(g, humanX, humanY, '#1010f0', -2.5, .25, 0, 5, humanDownDensity, 'down-regulated-density-cell');
  drawDensity(g, humanX, humanY, '#f00000', 1, .25, 0, 5, humanUpDensity, 'up-regulated-density-cell');
  drawPoints(g, humanX, humanY, humanNotSig, '#000', 'not-significant-point');
  drawPoints(g, humanX, humanY, humanDown, '#1010f0', 'down-regulated-point');
  drawPoints(g, humanX, humanY, humanUp, '#f00000', 'up-regulated-point');
  drawPoints(g, humanX, humanY, humanNotSigTopRow.map(function (v) { return [v, 100]; }), '#000', 'not-significant-capped-point');
  drawPoints(g, humanX, humanY, humanDownTopRow.map(function (v) { return [v, 100]; }), '#1010f0', 'down-regulated-capped-point');
  drawPoints(g, humanX, humanY, humanUpTopRow.map(function (v) { return [v, 100]; }), '#f00000', 'up-regulated-capped-point');
  drawOverlays(g, humanX, humanY, {maxY: 100, threshold: 1.4, centerTop: 50});
})();
</script>
</body>
</html>
